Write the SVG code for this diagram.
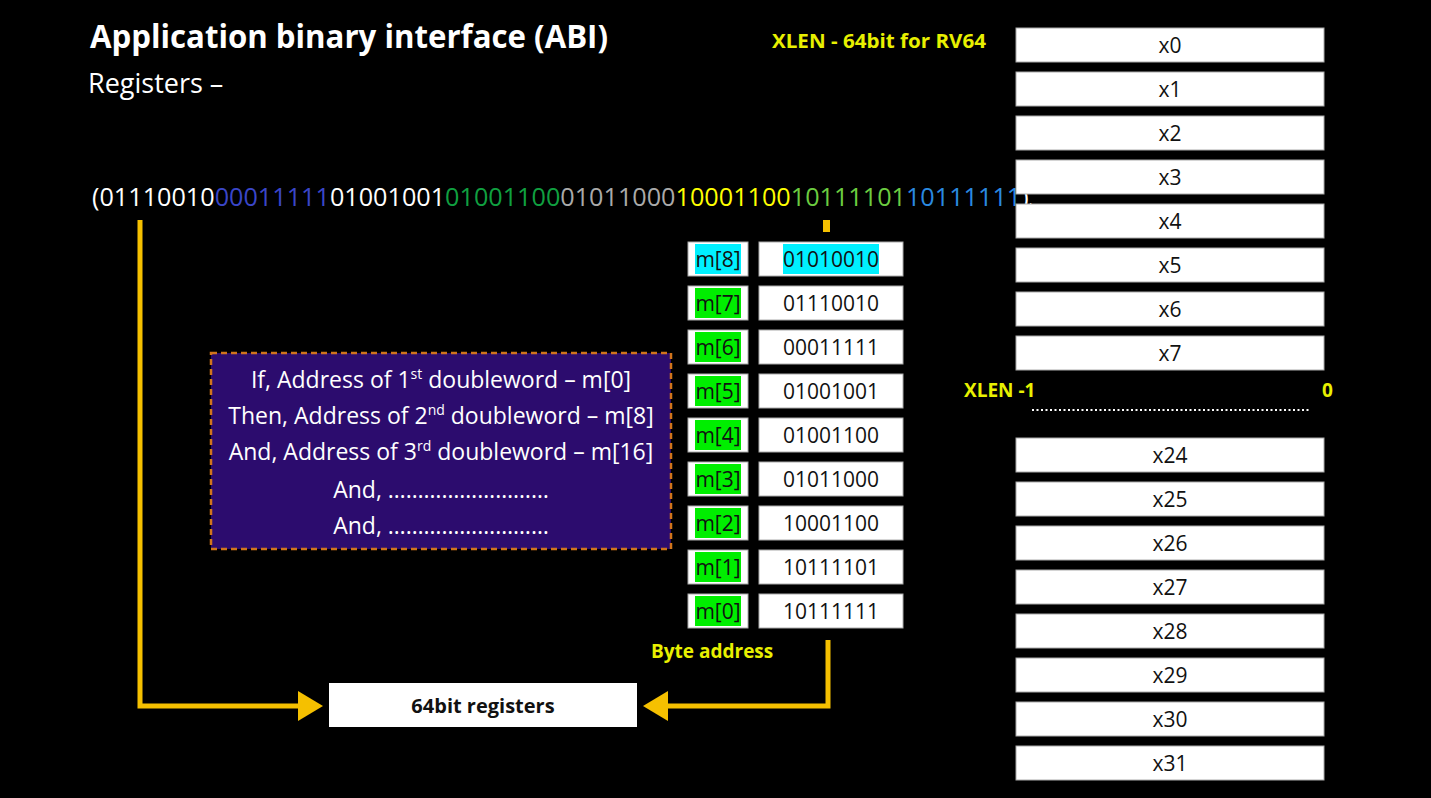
<svg xmlns="http://www.w3.org/2000/svg" width="1431" height="798" viewBox="0 0 1431 798">
<style>
text{font-family:"Open Sans","Noto Sans","Liberation Sans",sans-serif}
.cell{fill:#fff;stroke:#aaa;stroke-width:1}
.ct{font-size:21px;fill:#111;text-anchor:middle}
.mt{font-size:21px;fill:#111;text-anchor:middle}
.bt{font-size:23px;fill:#fff;text-anchor:middle}
.y{fill:#e8f000;font-weight:bold;font-size:19px}
.wire{fill:none;stroke:#f5c000;stroke-width:5}
</style>
<defs><marker id="ah" markerWidth="6" markerHeight="6" refX="4" refY="3" orient="auto"><path d="M0,0L5,3L0,6z" fill="#f5c000"/></marker></defs>
<rect width="1431" height="798" fill="#000"/>
<text x="90" y="48" font-size="33" font-weight="bold" fill="#fff" textLength="518" lengthAdjust="spacingAndGlyphs">Application binary interface (ABI)</text>
<text x="88" y="93" font-size="27" fill="#fff">Registers –</text>
<text x="772" y="48" class="y" textLength="214" lengthAdjust="spacingAndGlyphs">XLEN - 64bit for RV64</text>
<text x="92" y="206" font-size="25.2" fill="#fff">(01110010<tspan fill="#3a46c8">00011111</tspan>01001001<tspan fill="#10a040">01001100</tspan><tspan fill="#aaa">01011000</tspan><tspan fill="#ffff00">10001100</tspan><tspan fill="#6ccc40">10111101</tspan><tspan fill="#2a8ae0">10111111</tspan>)<tspan font-size="15" dy="8">bin</tspan></text>
<g id="connectors">
<rect x="823" y="220" width="7" height="12" fill="#f5c000"/>
<path class="wire" d="M140,220V706H318" marker-end="url(#ah)"/>
<path class="wire" d="M828,640V706H648" marker-end="url(#ah)"/>
</g>
<g id="regs64"><rect x="329" y="683" width="308" height="44" fill="#fff"/><text x="483" y="713" text-anchor="middle" font-size="20" font-weight="bold" fill="#111">64bit registers</text></g>
<g id="note">
<rect x="211" y="353" width="460" height="196" fill="#2c0c6e" stroke="#d0741c" stroke-width="2.5" stroke-dasharray="6,4"/>
<text x="441" y="388" class="bt">If, Address of 1<tspan font-size="14" dy="-9">st</tspan><tspan dy="9"> doubleword – m[0]</tspan></text>
<text x="441" y="424" class="bt">Then, Address of 2<tspan font-size="14" dy="-9">nd</tspan><tspan dy="9"> doubleword – m[8]</tspan></text>
<text x="441" y="460" class="bt">And, Address of 3<tspan font-size="14" dy="-9">rd</tspan><tspan dy="9"> doubleword – m[16]</tspan></text>
<text x="441" y="498" class="bt">And, ………………………</text>
<text x="441" y="534" class="bt">And, ………………………</text>
</g>
<g id="memory">
<g id="m8"><rect class="cell" x="688" y="242" width="60" height="34"/><rect x="695" y="244" width="46" height="30" fill="#00f0ff"/><text class="mt" x="718" y="267">m[8]</text><rect class="cell" x="759" y="242" width="144" height="34"/><rect x="783" y="244" width="96" height="30" fill="#00f0ff"/><text class="ct" x="831" y="267">01010010</text></g>
<g id="m7"><rect class="cell" x="688" y="286" width="60" height="34"/><rect x="695" y="288" width="46" height="30" fill="#00ee00"/><text class="mt" x="718" y="311">m[7]</text><rect class="cell" x="759" y="286" width="144" height="34"/><text class="ct" x="831" y="311">01110010</text></g>
<g id="m6"><rect class="cell" x="688" y="330" width="60" height="34"/><rect x="695" y="332" width="46" height="30" fill="#00ee00"/><text class="mt" x="718" y="355">m[6]</text><rect class="cell" x="759" y="330" width="144" height="34"/><text class="ct" x="831" y="355">00011111</text></g>
<g id="m5"><rect class="cell" x="688" y="374" width="60" height="34"/><rect x="695" y="376" width="46" height="30" fill="#00ee00"/><text class="mt" x="718" y="399">m[5]</text><rect class="cell" x="759" y="374" width="144" height="34"/><text class="ct" x="831" y="399">01001001</text></g>
<g id="m4"><rect class="cell" x="688" y="418" width="60" height="34"/><rect x="695" y="420" width="46" height="30" fill="#00ee00"/><text class="mt" x="718" y="443">m[4]</text><rect class="cell" x="759" y="418" width="144" height="34"/><text class="ct" x="831" y="443">01001100</text></g>
<g id="m3"><rect class="cell" x="688" y="462" width="60" height="34"/><rect x="695" y="464" width="46" height="30" fill="#00ee00"/><text class="mt" x="718" y="487">m[3]</text><rect class="cell" x="759" y="462" width="144" height="34"/><text class="ct" x="831" y="487">01011000</text></g>
<g id="m2"><rect class="cell" x="688" y="506" width="60" height="34"/><rect x="695" y="508" width="46" height="30" fill="#00ee00"/><text class="mt" x="718" y="531">m[2]</text><rect class="cell" x="759" y="506" width="144" height="34"/><text class="ct" x="831" y="531">10001100</text></g>
<g id="m1"><rect class="cell" x="688" y="550" width="60" height="34"/><rect x="695" y="552" width="46" height="30" fill="#00ee00"/><text class="mt" x="718" y="575">m[1]</text><rect class="cell" x="759" y="550" width="144" height="34"/><text class="ct" x="831" y="575">10111101</text></g>
<g id="m0"><rect class="cell" x="688" y="594" width="60" height="34"/><rect x="695" y="596" width="46" height="30" fill="#00ee00"/><text class="mt" x="718" y="619">m[0]</text><rect class="cell" x="759" y="594" width="144" height="34"/><text class="ct" x="831" y="619">10111111</text></g>
</g>
<text x="651" y="658" class="y">Byte address</text>
<g id="regfile">
<g id="x0"><rect class="cell" x="1016" y="28" width="308" height="34"/><text class="ct" x="1170" y="53">x0</text></g>
<g id="x1"><rect class="cell" x="1016" y="72" width="308" height="34"/><text class="ct" x="1170" y="97">x1</text></g>
<g id="x2"><rect class="cell" x="1016" y="116" width="308" height="34"/><text class="ct" x="1170" y="141">x2</text></g>
<g id="x3"><rect class="cell" x="1016" y="160" width="308" height="34"/><text class="ct" x="1170" y="185">x3</text></g>
<g id="x4"><rect class="cell" x="1016" y="204" width="308" height="34"/><text class="ct" x="1170" y="229">x4</text></g>
<g id="x5"><rect class="cell" x="1016" y="248" width="308" height="34"/><text class="ct" x="1170" y="273">x5</text></g>
<g id="x6"><rect class="cell" x="1016" y="292" width="308" height="34"/><text class="ct" x="1170" y="317">x6</text></g>
<g id="x7"><rect class="cell" x="1016" y="336" width="308" height="34"/><text class="ct" x="1170" y="361">x7</text></g>
<text x="964" y="397" class="y">XLEN -1</text>
<text x="1322" y="397" class="y">0</text>
<line x1="1032" y1="410" x2="1310" y2="410" stroke="#fff" stroke-width="2" stroke-dasharray="2,2.5"/>
<g id="x24"><rect class="cell" x="1016" y="438" width="308" height="34"/><text class="ct" x="1170" y="463">x24</text></g>
<g id="x25"><rect class="cell" x="1016" y="482" width="308" height="34"/><text class="ct" x="1170" y="507">x25</text></g>
<g id="x26"><rect class="cell" x="1016" y="526" width="308" height="34"/><text class="ct" x="1170" y="551">x26</text></g>
<g id="x27"><rect class="cell" x="1016" y="570" width="308" height="34"/><text class="ct" x="1170" y="595">x27</text></g>
<g id="x28"><rect class="cell" x="1016" y="614" width="308" height="34"/><text class="ct" x="1170" y="639">x28</text></g>
<g id="x29"><rect class="cell" x="1016" y="658" width="308" height="34"/><text class="ct" x="1170" y="683">x29</text></g>
<g id="x30"><rect class="cell" x="1016" y="702" width="308" height="34"/><text class="ct" x="1170" y="727">x30</text></g>
<g id="x31"><rect class="cell" x="1016" y="746" width="308" height="34"/><text class="ct" x="1170" y="771">x31</text></g>
</g>
</svg>
